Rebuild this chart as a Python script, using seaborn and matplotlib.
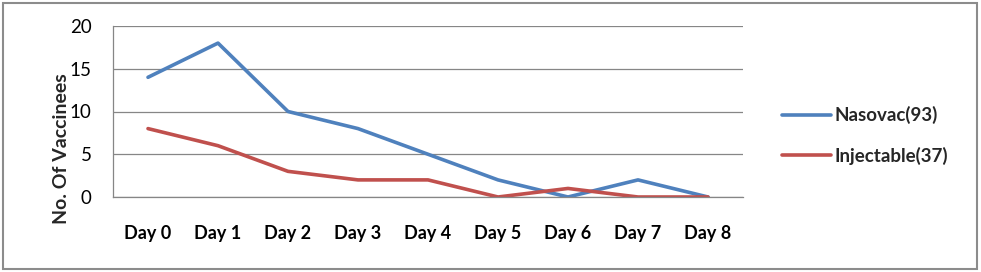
import matplotlib
matplotlib.use("Agg")
import matplotlib.pyplot as plt
import seaborn as sns
import pandas as pd
import numpy as np
from matplotlib.patches import Rectangle

days = ["Day 0", "Day 1", "Day 2", "Day 3", "Day 4", "Day 5", "Day 6", "Day 7", "Day 8"]
nasovac = [14, 18, 10, 8, 5, 2, 0, 2, 0]
injectable = [8, 6, 3, 2, 2, 0, 1, 0, 0]
series_names = ["Nasovac(93)", "Injectable(37)"]
colors = ["#4F81BD", "#C0504D"]

sns.set_theme(style="white")
plt.rcParams['font.family'] = ['Lato', 'DejaVu Sans']

df = pd.DataFrame({
    "idx": list(range(len(days))) * 2,
    "value": nasovac + injectable,
    "series": [series_names[0]] * len(days) + [series_names[1]] * len(days),
})

fig = plt.figure(figsize=(9.81, 2.72), dpi=100)
ax = fig.add_axes([113/981, 1 - 197/272, (743-113)/981, (197-26)/272])

sns.lineplot(data=df, x="idx", y="value", hue="series", palette=colors,
             linewidth=2.6, ax=ax, legend=True)

grid_c = "#868686"
ax.set_xlim(-0.5, len(days) - 0.5)
ax.set_ylim(0, 20)
ax.set_yticks([0, 5, 10, 15, 20])
ax.yaxis.grid(True, color=grid_c, linewidth=0.9)
ax.set_axisbelow(True)
ax.set_xticks(range(len(days)))
ax.set_xticklabels(days, fontsize=13, fontweight="bold")
ax.set_xticks(np.arange(-0.5, len(days)), minor=True)
ax.tick_params(axis="x", which="major", length=0, pad=20)
ax.tick_params(axis="x", which="minor", length=5.5, color=grid_c, width=0.9, direction="out")
ax.tick_params(axis="y", length=5.5, color=grid_c, width=0.9, direction="out",
               labelsize=13.5, pad=10)
ax.tick_params(axis="both", labelcolor="black")
for s in ["top", "right"]:
    ax.spines[s].set_visible(False)
for s in ["left", "bottom"]:
    ax.spines[s].set_color(grid_c)
    ax.spines[s].set_linewidth(0.9)
ax.set_xlabel("")
ax.set_ylabel("No. Of Vaccinees", fontsize=14, fontweight="bold")
ax.yaxis.set_label_coords(-0.068, 0.28)

leg = ax.legend(loc="center left", bbox_to_anchor=(1.035, 0.36), frameon=False,
                handlelength=2.6, handletextpad=0.2, labelspacing=1.2,
                prop={"size": 13.5, "weight": "bold"})

fig.patches.append(Rectangle((3/981, 3/272), 974/981, 266/272, transform=fig.transFigure,
                             fill=False, edgecolor="#8c8c8c", linewidth=1.5))

fig.savefig("out.png", dpi=100)
